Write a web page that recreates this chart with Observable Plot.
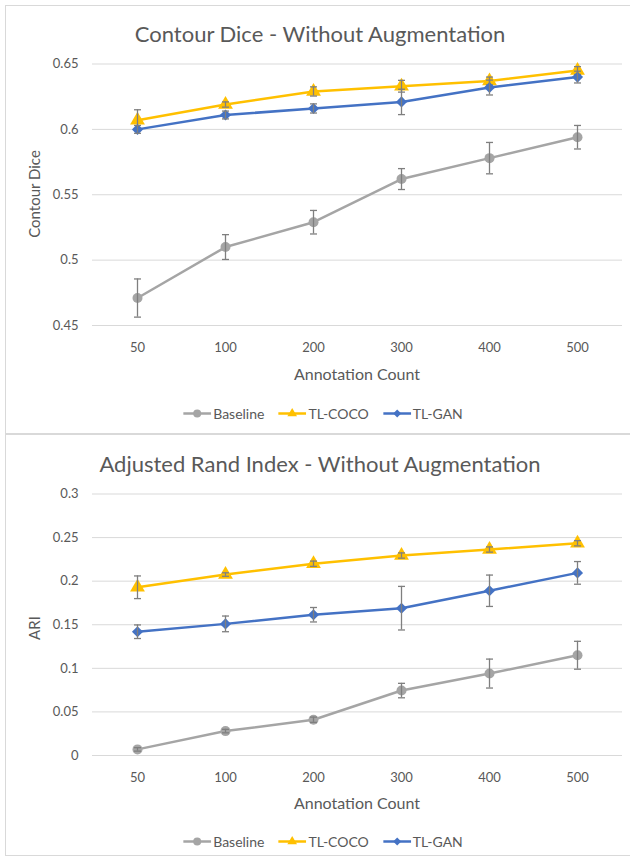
<!DOCTYPE html>
<html>
<head>
<meta charset="utf-8">
<script src="https://cdn.jsdelivr.net/npm/d3@7"></script>
<script src="https://cdn.jsdelivr.net/npm/@observablehq/plot@0.6"></script>
<style>
  html, body { margin: 0; padding: 0; background: #fff; }
  #wrap { position: relative; width: 630px; height: 856px; background: #fff; font-family: Lato, "Open Sans", sans-serif; color: #595959; overflow: hidden; }
  .panel { position: absolute; border: 1px solid #d9d9d9; border-right: none; box-sizing: border-box; }
  .title { position: absolute; font-size: 22px; white-space: nowrap; transform: translate(-50%, -50%); color: #595959; }
  .xlab { position: absolute; font-size: 16px; white-space: nowrap; transform: translate(-50%, -50%); }
  .ylab { position: absolute; font-size: 15px; white-space: nowrap; transform: translate(-50%, -50%) rotate(-90deg); }
  .legend { position: absolute; display: flex; align-items: center; font-size: 14px; white-space: nowrap; transform: translate(-50%, -50%); }
  .legend .item { display: flex; align-items: center; margin: 0 7px; }
  .legend svg { margin-right: 2px; }
</style>
</head>
<body>
<div id="wrap"></div>
<script>
// ---------- data ----------
const counts = ["50", "100", "200", "300", "400", "500"];
const seriesNames = ["Baseline", "TL-COCO", "TL-GAN"];
const seriesColors = ["#A5A5A5", "#FFC000", "#4472C4"];
const seriesSymbols = ["circle", "triangle", "diamond2"];

const diceBaseline    = [0.471, 0.510, 0.529, 0.562, 0.578, 0.594];
const diceBaselineErr = [0.0146, 0.0095, 0.009, 0.008, 0.012, 0.009];
const diceCoco        = [0.607, 0.619, 0.629, 0.633, 0.637, 0.645];
const diceCocoErr     = [0.008, 0.002, 0.0035, 0.0045, 0.003, 0.003];
const diceGan         = [0.600, 0.611, 0.616, 0.621, 0.632, 0.640];
const diceGanErr      = [0.003, 0.003, 0.0035, 0.0097, 0.0057, 0.0045];
const diceTicks       = [0.45, 0.5, 0.55, 0.6, 0.65];

const ariBaseline     = [0.007, 0.028, 0.041, 0.0745, 0.094, 0.115];
const ariBaselineErr  = [0.002, 0.002, 0.003, 0.0083, 0.0166, 0.016];
const ariCoco         = [0.193, 0.2076, 0.220, 0.2294, 0.2363, 0.2435];
const ariCocoErr      = [0.013, 0.002, 0.003, 0.003, 0.003, 0.003];
const ariGan          = [0.142, 0.151, 0.1615, 0.169, 0.189, 0.2095];
const ariGanErr       = [0.0078, 0.009, 0.0083, 0.025, 0.018, 0.013];
const ariTicks        = [0, 0.05, 0.1, 0.15, 0.2, 0.25, 0.3];

// ---------- helpers ----------
const capSymbol = { draw(ctx) { ctx.moveTo(-3.5, 0); ctx.lineTo(3.5, 0); } };

function rows(values, errs, series) {
  return counts.map((c, i) => ({ count: c, value: values[i], lo: values[i] - errs[i], hi: values[i] + errs[i], series }));
}

function makePanel(cfg) {
  const wrap = document.getElementById("wrap");
  const marks = [Plot.gridY(cfg.ticks, { stroke: "#d9d9d9", strokeOpacity: 1, strokeWidth: 1 })];
  const radii = [5, 5.5, 5];
  cfg.series.forEach((s, k) => {
    const data = rows(s.values, s.errs, seriesNames[k]);
    marks.push(
      Plot.line(data, { x: "count", y: "value", stroke: seriesColors[k], strokeWidth: 2.5 }),
      Plot.dot(data, { x: "count", y: "value", symbol: seriesSymbols[k], r: radii[k], fill: seriesColors[k], stroke: "none" }),
      Plot.ruleX(data, { x: "count", y1: "lo", y2: "hi", stroke: "#7f7f7f", strokeWidth: 1.3 }),
      Plot.dot(data, { x: "count", y: "lo", symbol: capSymbol, stroke: "#7f7f7f", strokeWidth: 1.3, fill: "none" }),
      Plot.dot(data, { x: "count", y: "hi", symbol: capSymbol, stroke: "#7f7f7f", strokeWidth: 1.3, fill: "none" })
    );
  });
  const chart = Plot.plot({
    width: 630,
    height: 305,
    marginTop: 23.5,
    marginBottom: 20,
    marginLeft: 92,
    marginRight: 8,
    style: { fontFamily: "Lato, sans-serif", fontSize: "13px", color: "#595959", background: "transparent", overflow: "visible" },
    x: { type: "point", domain: counts, padding: 0.5, label: null, tickSize: 0, tickPadding: 17 },
    y: { domain: cfg.domain, ticks: cfg.ticks, tickFormat: d => String(+d.toFixed(3)), label: null, tickSize: 0, tickPadding: 14 },
    marks
  });
  chart.style.position = "absolute";
  chart.style.left = "0px";
  chart.style.top = cfg.svgTop + "px";
  wrap.appendChild(chart);

  const t = document.createElement("div");
  t.className = "title"; t.textContent = cfg.title;
  t.style.left = "320px"; t.style.top = cfg.titleY + "px";
  wrap.appendChild(t);

  const xl = document.createElement("div");
  xl.className = "xlab"; xl.textContent = "Annotation Count";
  xl.style.left = "357px"; xl.style.top = cfg.xlabY + "px";
  wrap.appendChild(xl);

  const yl = document.createElement("div");
  yl.className = "ylab"; yl.textContent = cfg.ylabel;
  yl.style.left = "34px"; yl.style.top = cfg.ylabY + "px";
  wrap.appendChild(yl);

  const lg = document.createElement("div");
  lg.className = "legend";
  lg.style.left = "323px"; lg.style.top = cfg.legendY + "px";
  seriesNames.forEach((name, k) => {
    const item = document.createElement("div");
    item.className = "item";
    const sym = d3.symbol(k === 0 ? d3.symbolCircle : k === 1 ? d3.symbolTriangle : d3.symbolDiamond2, k === 0 ? 50 : 40)();
    item.innerHTML = `<svg width="28" height="12" viewBox="0 0 28 12"><line x1="0" x2="28" y1="6" y2="6" stroke="${seriesColors[k]}" stroke-width="2.5"/><path d="${sym}" transform="translate(14,6)" fill="${seriesColors[k]}"/></svg><span>${name}</span>`;
    lg.appendChild(item);
  });
  wrap.appendChild(lg);
}

// ---------- panels ----------
const wrapEl = document.getElementById("wrap");
[[5, 429], [434, 422]].forEach(([top, h]) => {
  const p = document.createElement("div");
  p.className = "panel";
  p.style.left = "5px"; p.style.top = top + "px"; p.style.width = "630px"; p.style.height = h + "px";
  wrapEl.appendChild(p);
});

makePanel({
  title: "Contour Dice - Without Augmentation",
  ylabel: "Contour Dice",
  domain: [0.45, 0.65],
  ticks: diceTicks,
  series: [
    { values: diceBaseline, errs: diceBaselineErr },
    { values: diceCoco, errs: diceCocoErr },
    { values: diceGan, errs: diceGanErr }
  ],
  svgTop: 40,
  titleY: 33,
  xlabY: 373,
  ylabY: 194,
  legendY: 413
});

makePanel({
  title: "Adjusted Rand Index - Without Augmentation",
  ylabel: "ARI",
  domain: [0, 0.3],
  ticks: ariTicks,
  series: [
    { values: ariBaseline, errs: ariBaselineErr },
    { values: ariCoco, errs: ariCocoErr },
    { values: ariGan, errs: ariGanErr }
  ],
  svgTop: 470,
  titleY: 463,
  xlabY: 802,
  ylabY: 628,
  legendY: 841
});
</script>
</body>
</html>
